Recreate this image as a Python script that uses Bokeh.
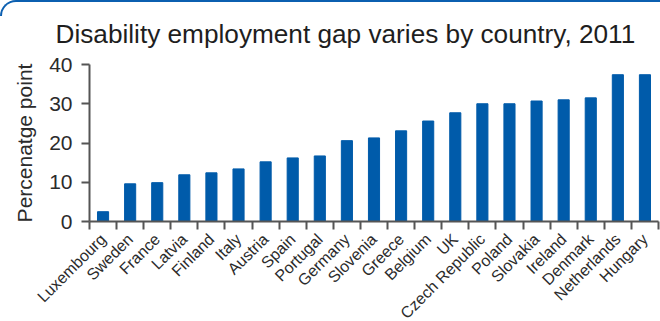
import math
from bokeh.plotting import figure
from bokeh.models import Range1d, FixedTicker, InlineStyleSheet
from bokeh.embed import file_html
from bokeh.resources import INLINE

countries = ["Luxembourg", "Sweden", "France", "Latvia", "Finland", "Italy", "Austria",
             "Spain", "Portugal", "Germany", "Slovenia", "Greece", "Belgium", "UK",
             "Czech Republic", "Poland", "Slovakia", "Ireland", "Denmark", "Netherlands",
             "Hungary"]
gap = [2.5, 9.6, 9.9, 11.9, 12.4, 13.4, 15.2, 16.2, 16.7, 20.6, 21.3, 23.1, 25.6, 27.7,
       30.0, 30.0, 30.7, 31.0, 31.5, 37.4, 37.4]
y_ticks = [0, 10, 20, 30, 40]

FONT = "Liberation Sans"
TXT = "#2b2b2b"
AXC = "#555555"

positions = list(range(len(countries)))

p = figure(frame_width=569, frame_height=157, output_backend="svg", toolbar_location=None,
           x_range=Range1d(-0.5, len(countries) - 0.5), y_range=Range1d(0, 40),
           min_border_left=89, min_border_right=2, min_border_top=63, min_border_bottom=101,
           title="Disability employment gap varies by country, 2011")
p.outline_line_color = None
p.grid.visible = False
p.background_fill_color = "white"
p.border_fill_color = "white"

p.title.text_font = FONT
p.title.text_font_size = "26.2px"
p.title.text_font_style = "normal"
p.title.text_color = "#1e1e1e"
p.title.align = "left"
p.title.offset = -34
p.title.standoff = 32

p.vbar(x=positions, top=gap, width=0.41, color="#005BAA")

xa = p.xaxis[0]
xa.ticker = FixedTicker(ticks=positions, minor_ticks=[i - 0.5 for i in range(len(countries) + 1)])
xa.major_label_overrides = {i: c for i, c in zip(positions, countries)}
xa.major_label_orientation = math.pi / 4
xa.major_tick_in = 0
xa.major_tick_out = 0
xa.minor_tick_in = 0
xa.minor_tick_out = 8
xa.minor_tick_line_color = AXC
xa.minor_tick_line_width = 2
xa.axis_line_color = AXC
xa.axis_line_width = 2
xa.major_label_text_font = FONT
xa.major_label_text_font_size = "16px"
xa.major_label_text_color = TXT
xa.major_label_standoff = 7

ya = p.yaxis[0]
ya.ticker = FixedTicker(ticks=y_ticks, minor_ticks=[])
ya.major_tick_in = 0
ya.major_tick_out = 8
ya.major_tick_line_color = AXC
ya.major_tick_line_width = 2
ya.axis_line_color = AXC
ya.axis_line_width = 2
ya.major_label_text_font = FONT
ya.major_label_text_font_size = "21px"
ya.major_label_text_color = TXT
ya.major_label_standoff = 9
ya.axis_label = "Percenatge point"
ya.axis_label_text_font = FONT
ya.axis_label_text_font_size = "21px"
ya.axis_label_text_font_style = "normal"
ya.axis_label_text_color = TXT
ya.axis_label_standoff = 10

p.stylesheets = [InlineStyleSheet(css="""
:host { position: relative; }
:host::after {
  content: ""; position: absolute; left: 0; top: 0; width: 100%; height: 16px;
  border-top: 2px solid #0B5FB0; border-left: 2px solid #0B5FB0;
  border-top-left-radius: 16px; box-sizing: border-box; pointer-events: none;
}
""")]

open("out.html", "w").write(file_html(p, INLINE))
